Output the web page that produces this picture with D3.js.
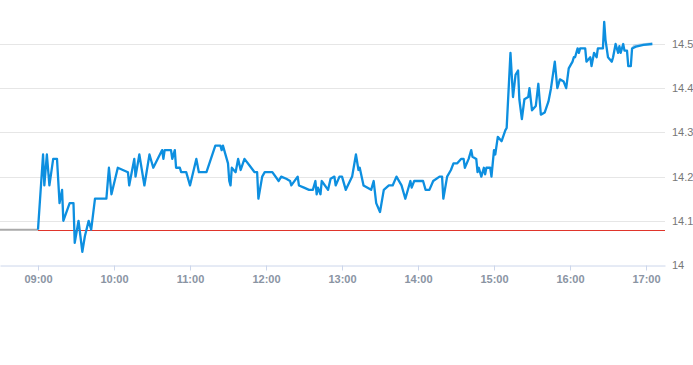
<!DOCTYPE html>
<html>
<head>
<meta charset="utf-8">
<script src="https://cdn.jsdelivr.net/npm/d3@7"></script>
<style>
  body { margin: 0; background: #fff; }
  svg { display: block; font-family: "Liberation Sans", Arial, sans-serif; }
  .xlab text { fill: #8a94a3; font-size: 11px; font-weight: bold; }
  .ylab text { fill: #777; font-size: 11px; }
</style>
</head>
<body>
<svg id="chart"></svg>
<script>
// intraday price, HH:MM
var times = ["09:00","09:04","09:05","09:07","09:09","09:12","09:15","09:17","09:19","09:20",
  "09:25","09:28","09:29","09:32","09:35","09:37","09:40","09:42","09:45","09:54",
  "09:56","09:58","10:03","10:11","10:12","10:16","10:17","10:20","10:24","10:28",
  "10:31","10:38","10:39","10:40","10:45","10:46","10:48","10:49","10:52","10:53",
  "10:57","11:00","11:05","11:07","11:13","11:20","11:24","11:25","11:26","11:30",
  "11:31","11:32","11:33","11:36","11:38","11:40","11:43","11:47","11:51","11:53",
  "11:54","11:57","11:59","12:05","12:10","12:12","12:16","12:19","12:20","12:25",
  "12:26","12:30","12:34","12:37","12:39","12:40","12:41","12:43","12:44","12:49",
  "12:51","12:54","12:55","12:58","13:00","13:03","13:08","13:11","13:13","13:14",
  "13:17","13:23","13:25","13:27","13:30","13:33","13:37","13:40","13:43","13:47",
  "13:50","13:54","13:55","13:57","14:04","14:06","14:09","14:12","14:17","14:19",
  "14:20","14:23","14:26","14:28","14:31","14:34","14:36","14:37","14:40","14:42",
  "14:43","14:46","14:47","14:48","14:50","14:52","14:53","14:54","14:57","14:58",
  "15:00","15:01","15:03","15:06","15:09","15:10","15:13","15:15","15:17","15:19",
  "15:20","15:22","15:24","15:27","15:28","15:30","15:33","15:35","15:37","15:40",
  "15:43","15:45","15:48","15:50","15:52","15:55","15:57","15:59","16:02","16:03",
  "16:04","16:06","16:07","16:08","16:12","16:13","16:16","16:17","16:19","16:21",
  "16:22","16:26","16:27","16:28","16:30","16:33","16:34","16:36","16:38","16:39",
  "16:40","16:42","16:43","16:45","16:46","16:48","16:49","16:52","16:58","17:05"];

var prices = [14.08,14.25,14.18,14.25,14.18,14.24,14.24,14.14,14.17,14.10,
  14.14,14.14,14.05,14.10,14.03,14.065,14.10,14.08,14.15,14.15,
  14.22,14.16,14.22,14.21,14.18,14.24,14.20,14.25,14.18,14.25,
  14.22,14.26,14.24,14.26,14.26,14.24,14.26,14.22,14.22,14.21,
  14.21,14.18,14.24,14.21,14.21,14.27,14.27,14.26,14.27,14.23,
  14.19,14.18,14.22,14.21,14.24,14.215,14.24,14.225,14.21,14.21,
  14.15,14.20,14.21,14.21,14.19,14.20,14.195,14.19,14.18,14.20,
  14.18,14.175,14.17,14.17,14.19,14.16,14.175,14.16,14.19,14.17,
  14.195,14.20,14.18,14.20,14.20,14.17,14.20,14.25,14.215,14.22,
  14.18,14.17,14.19,14.14,14.12,14.17,14.18,14.18,14.20,14.18,
  14.15,14.19,14.175,14.19,14.19,14.17,14.17,14.19,14.20,14.20,
  14.15,14.20,14.215,14.23,14.23,14.24,14.24,14.22,14.24,14.26,
  14.245,14.24,14.21,14.22,14.20,14.22,14.205,14.22,14.22,14.20,
  14.26,14.25,14.29,14.28,14.305,14.31,14.48,14.38,14.43,14.44,
  14.375,14.33,14.375,14.38,14.40,14.35,14.36,14.41,14.34,14.345,
  14.37,14.40,14.46,14.40,14.42,14.415,14.40,14.445,14.46,14.47,
  14.47,14.49,14.48,14.49,14.49,14.46,14.47,14.45,14.48,14.47,
  14.49,14.49,14.55,14.51,14.47,14.46,14.47,14.50,14.48,14.495,
  14.48,14.50,14.485,14.485,14.45,14.45,14.49,14.494,14.498,14.50];

// faint after-close trace
var lateTimes = ["16:49","16:51","17:05"];
var latePrices = [14.49,14.497,14.501];

// pre-open flat line
var preTimes = ["08:30","09:00"];
var prePrices = [14.08,14.08];

var prevClose = 14.08;
var yTicks = [14, 14.1, 14.2, 14.3, 14.4, 14.5];

var width = 693, height = 365;
var parse = d3.timeParse("%H:%M");

var svg = d3.select("#chart").attr("width", width).attr("height", height);

var x = d3.scaleTime()
  .domain([parse("08:30"), parse("17:15")])
  .range([0, 665]);

var y = d3.scaleLinear()
  .domain([14, 14.5])
  .range([265, 44]);

// grid
svg.append("g").selectAll("line")
  .data(yTicks.filter(function(d){ return d > 14; }))
  .enter().append("line")
  .attr("x1", 0).attr("x2", 665)
  .attr("y1", function(d){ return Math.round(y(d)) + 0.5; })
  .attr("y2", function(d){ return Math.round(y(d)) + 0.5; })
  .attr("stroke", "#e6e6e6");

// x axis
var xAxis = d3.axisBottom(x)
  .tickValues(d3.range(9, 18).map(function(h){ return parse((h < 10 ? "0" : "") + h + ":00"); }))
  .tickFormat(d3.timeFormat("%H:%M"))
  .tickSize(5)
  .tickSizeOuter(0)
  .tickPadding(5);

var gx = svg.append("g")
  .attr("class", "xlab")
  .attr("transform", "translate(0,265.5)")
  .call(xAxis);
gx.select(".domain").attr("stroke", "#ccd6eb");
gx.selectAll(".tick line").attr("stroke", "#ccd6eb");

// y labels on the right
var yAxis = d3.axisRight(y)
  .tickValues(yTicks)
  .tickSize(0)
  .tickPadding(0)
  .tickFormat(function(d){ return d === 14 ? "14" : d3.format(".1f")(d); });

var gy = svg.append("g")
  .attr("class", "ylab")
  .attr("transform", "translate(672,0)")
  .call(yAxis);
gy.select(".domain").remove();

// previous close
var yc = Math.round(y(prevClose)) + 0.5;
svg.append("line")
  .attr("x1", x(parse("09:00"))).attr("x2", 665)
  .attr("y1", yc).attr("y2", yc)
  .attr("stroke", "#e0352b")
  .attr("stroke-width", 1);

var line = d3.line()
  .x(function(d){ return x(parse(d[0])); })
  .y(function(d){ return y(d[1]); });

svg.append("path")
  .datum(d3.zip(preTimes, prePrices))
  .attr("d", line)
  .attr("fill", "none")
  .attr("stroke", "#aaaaaa")
  .attr("stroke-width", 2);

svg.append("path")
  .datum(d3.zip(lateTimes, latePrices))
  .attr("d", line)
  .attr("fill", "none")
  .attr("stroke", "#b7d2e8")
  .attr("stroke-width", 2.5);

svg.append("path")
  .datum(d3.zip(times, prices))
  .attr("d", line)
  .attr("fill", "none")
  .attr("stroke", "#0d8fe0")
  .attr("stroke-width", 2.3)
  .attr("stroke-linejoin", "round");
</script>
</body>
</html>
